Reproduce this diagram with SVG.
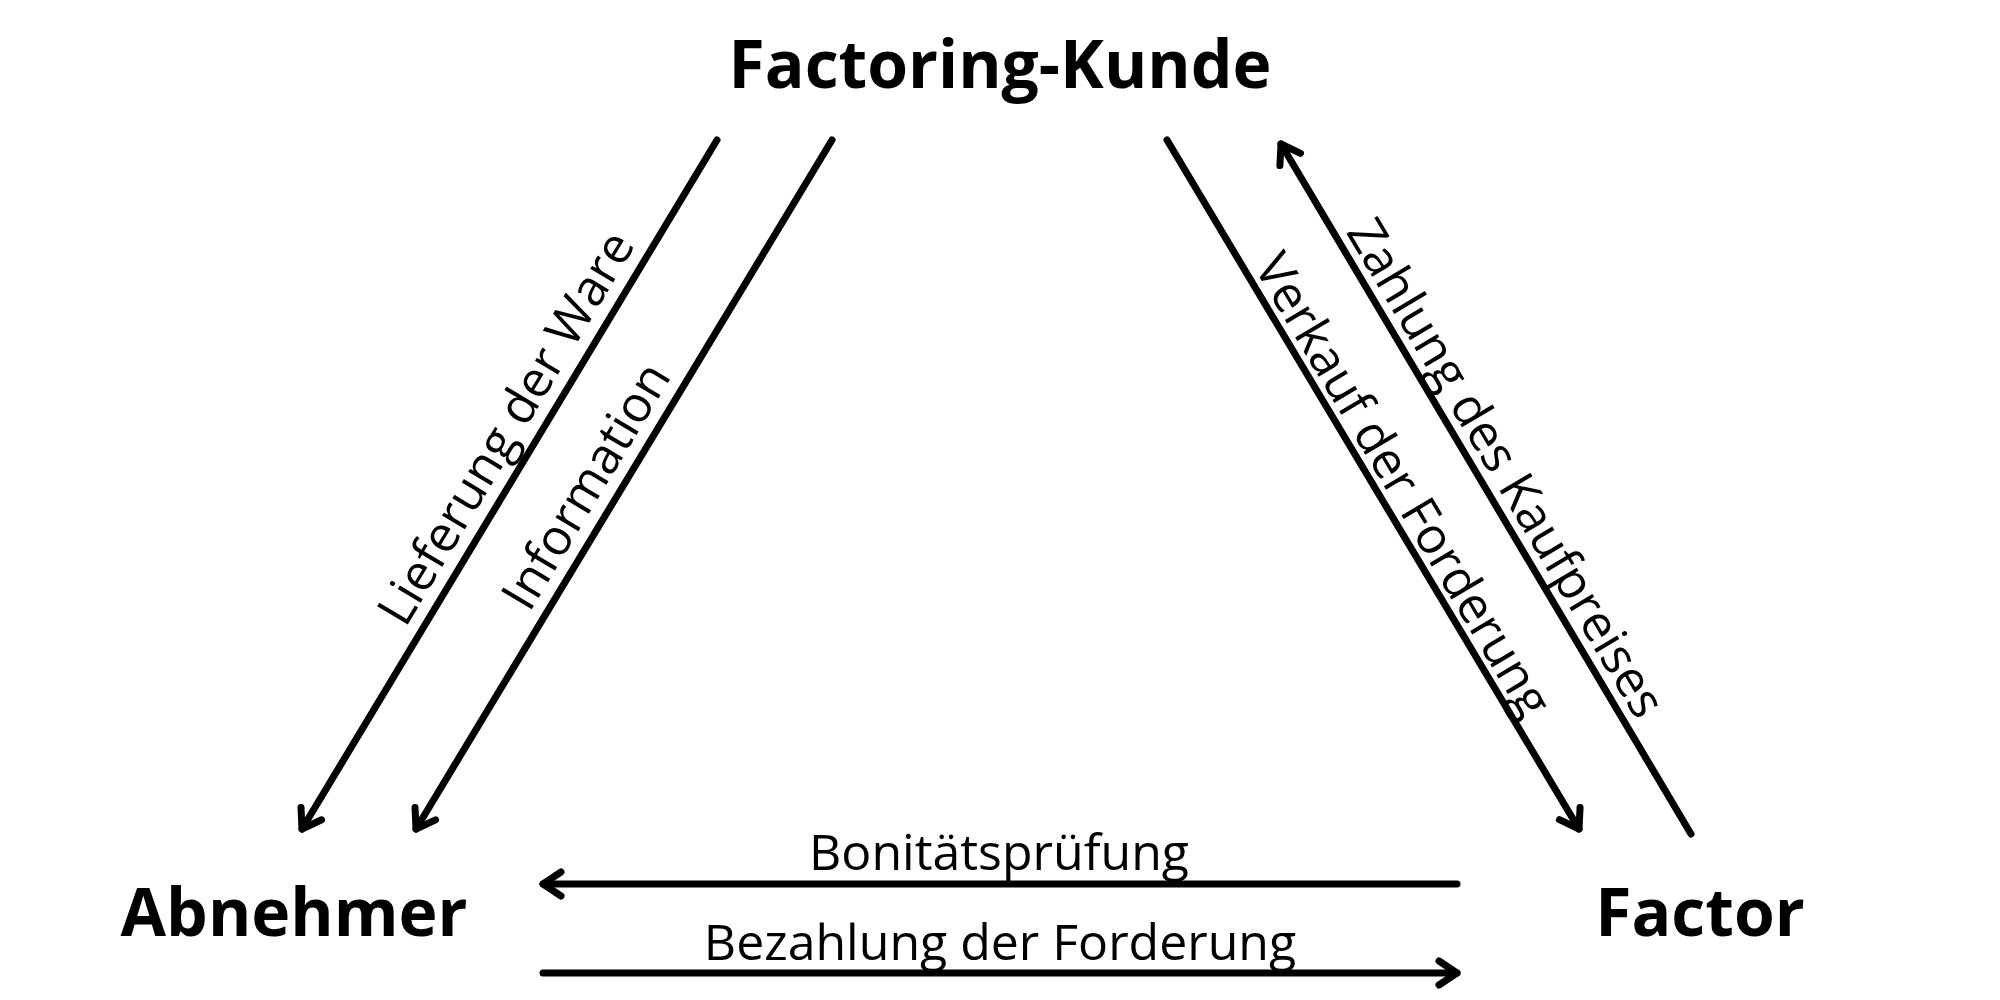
<svg xmlns="http://www.w3.org/2000/svg" width="2000" height="1000" viewBox="0 0 2000 1000">
  <style>
    .node { font-family: "Open Sans", "Liberation Sans", sans-serif; font-weight: 700; font-size: 66px; fill: #000; text-anchor: middle; }
    .lbl { font-family: "Open Sans", "Liberation Sans", sans-serif; font-weight: 400; font-size: 50px; fill: #000; text-anchor: middle; }
    .conn { fill: none; stroke: #000; stroke-width: 7; stroke-linecap: round; stroke-linejoin: round; }
  </style>
  <defs>
    <marker id="ah" markerUnits="userSpaceOnUse" orient="auto" refX="0" refY="0" markerWidth="50" markerHeight="50" overflow="visible">
      <path d="M-18,-12 L0,0 L-18,12" fill="none" stroke="#000" stroke-width="7" stroke-linecap="round" stroke-linejoin="round"/>
    </marker>
  </defs>
  <rect width="2000" height="1000" fill="#fff"/>

  <g id="node-factoring-kunde"><text class="node" x="1000" y="88">Factoring-Kunde</text></g>
  <g id="node-abnehmer"><text class="node" x="294" y="936">Abnehmer</text></g>
  <g id="node-factor"><text class="node" x="1700" y="936">Factor</text></g>

  <g id="connectors">
    <line class="conn" x1="717" y1="140" x2="302" y2="829" marker-end="url(#ah)"/>
    <line class="conn" x1="832" y1="140" x2="416" y2="829" marker-end="url(#ah)"/>
    <line class="conn" x1="1167" y1="140" x2="1579" y2="829" marker-end="url(#ah)"/>
    <line class="conn" x1="1691" y1="834" x2="1281" y2="144" marker-end="url(#ah)"/>
    <line class="conn" x1="1457" y1="884" x2="543" y2="884" marker-end="url(#ah)"/>
    <line class="conn" x1="543" y1="973" x2="1457" y2="973" marker-end="url(#ah)"/>
  </g>

  <g id="labels">
    <text class="lbl" transform="translate(506,428) rotate(-59)" y="17">Lieferung der Ware</text>
    <text class="lbl" transform="translate(586,486) rotate(-59)" y="17">Information</text>
    <text class="lbl" transform="translate(1403,485) rotate(59.2)" y="17">Verkauf der Forderung</text>
    <text class="lbl" transform="translate(1506,468) rotate(59.2)" y="17">Zahlung des Kaufpreises</text>
    <text class="lbl" x="999" y="870">Bonitätsprüfung</text>
    <text class="lbl" x="1000" y="960">Bezahlung der Forderung</text>
  </g>
</svg>
